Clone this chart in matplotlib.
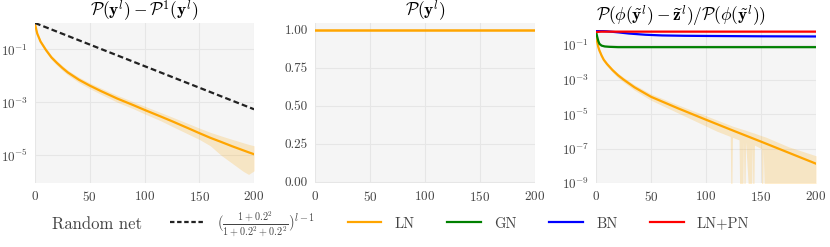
import matplotlib
matplotlib.use("Agg")
from matplotlib import pyplot as plt
from matplotlib.lines import Line2D
import numpy as np

plt.rcParams['font.family'] = 'serif'
plt.rcParams['font.serif'] = ['cmr10']
plt.rcParams['mathtext.fontset'] = 'cm'
plt.rcParams['axes.formatter.use_mathtext'] = True

ORANGE = '#FFA500'

# panel 1: P(y) - P^1(y)
ln1_x = [0, 2, 5, 10, 15, 20, 25, 30, 40, 50, 60, 75, 90, 100, 115, 125,
         140, 150, 160, 170, 180, 190, 195, 200]
ln1_mean = [0.9, 0.4, 0.2, 0.095, 0.05, 0.031, 0.02, 0.0135, 7.2e-3, 4.3e-3,
            2.7e-3, 1.4e-3, 7.8e-4, 5.2e-4, 2.9e-4, 1.95e-4, 1.05e-4, 6.9e-5,
            4.6e-5, 3.2e-5, 2.2e-5, 1.55e-5, 1.3e-5, 1.1e-5]
ln1_hi = [0.95, 0.45, 0.23, 0.112, 0.06, 0.037, 0.0245, 0.0165, 9.0e-3, 5.5e-3,
          3.5e-3, 1.86e-3, 1.05e-3, 7.2e-4, 4.1e-4, 2.8e-4, 1.58e-4, 1.07e-4,
          7.4e-5, 5.4e-5, 4.0e-5, 3.0e-5, 2.6e-5, 2.3e-5]
ln1_lo = [0.85, 0.35, 0.17, 0.08, 0.041, 0.025, 0.016, 0.0108, 5.6e-3, 3.3e-3,
          2.05e-3, 1.02e-3, 5.7e-4, 3.7e-4, 2.0e-4, 1.25e-4, 6.3e-5, 4.0e-5,
          2.3e-5, 1.0e-5, 5.0e-6, 2.5e-6, 1.9e-6, 2.6e-6]
random_x = [0, 200]
random_y = [1.0, 5.5e-4]

# panel 2: P(y)
p2_x = [0, 200]
p2_ln = [1.0, 1.0]

# panel 3: ratio, values as log10 exponents
ln3_x = [0, 1, 2, 3, 5, 7, 10, 15, 20, 25, 35, 50, 75, 100, 125, 150,
         175, 200]
ln3_exp = [-0.45, -0.8, -1.1, -1.3, -1.6, -1.85, -2.1, -2.45, -2.75, -3.0,
           -3.45, -4.0, -4.68, -5.33, -5.97, -6.6, -7.24, -7.88]
band3_x = [0, 1, 2, 3, 5, 7, 10, 15, 20, 25, 35, 50, 75, 100, 110, 122, 123,
           124, 130, 131, 133, 134, 135, 136, 141, 142, 143, 144, 150, 151,
           152, 154, 175, 200]
band3_lo_exp = [-0.5, -0.9, -1.2, -1.4, -1.72, -1.97, -2.22, -2.58, -2.9,
                -3.15, -3.62, -4.2, -4.95, -5.7, -6.0, -6.3, -12, -6.35,
                -6.5, -12, -12, -6.55, -12, -6.6, -12, -6.75, -12, -6.8,
                -7.0, -12, -7.05, -12, -12, -12]
band3_hi_exp = [-0.35, -0.7, -1.0, -1.2, -1.5, -1.75, -2.0, -2.35, -2.63,
                -2.87, -3.3, -3.83, -4.48, -5.1, -5.35, -5.65, -5.67, -5.7,
                -5.82, -5.84, -5.88, -5.9, -5.92, -5.94, -6.05, -6.07, -6.09,
                -6.11, -6.25, -6.27, -6.29, -6.33, -6.9, -7.42]
gn3_x = [0, 1, 2, 3, 5, 8, 12, 20, 50, 100, 150, 200]
gn3_exp = [-0.2, -0.5, -0.75, -0.92, -1.03, -1.08, -1.1, -1.12, -1.12, -1.12,
           -1.12, -1.12]
bn3_x = [0, 10, 20, 30, 45, 60, 80, 100, 150, 200]
bn3_exp = [-0.17, -0.2, -0.26, -0.33, -0.4, -0.44, -0.46, -0.47, -0.49, -0.5]
pn3_x = [0, 5, 200]
pn3_exp = [-0.24, -0.22, -0.22]


def style_axes(ax):
    ax.set_facecolor('#f5f5f5')
    for s in ax.spines.values():
        s.set_visible(False)
    ax.grid(True, color='#e6e6e6', linewidth=0.8)
    ax.set_axisbelow(True)
    ax.tick_params(length=0, labelsize=9.5, labelcolor='#444444', pad=5)
    ax.minorticks_off()
    ax.set_xlim(0, 200)
    ax.set_xticks([0, 50, 100, 150, 200])


fig = plt.figure(figsize=(8.3, 2.47), dpi=100)
ax1 = fig.add_axes([0.0422, 0.2591, 0.2639, 0.6478])
ax2 = fig.add_axes([0.3795, 0.2591, 0.2651, 0.6478])
ax3 = fig.add_axes([0.7181, 0.2591, 0.2651, 0.6194])

# panel 1
ax1.set_yscale('log')
ax1.fill_between(ln1_x, ln1_lo, ln1_hi, color=ORANGE, alpha=0.2, linewidth=0)
ax1.plot(ln1_x, ln1_mean, color=ORANGE, lw=1.6)
ax1.plot(random_x, random_y, color='#222222', lw=1.6, ls='--', dashes=(2.6, 1.4))
style_axes(ax1)
ax1.set_ylim(9e-7, 1.0)
ax1.set_yticks([1e-1, 1e-3, 1e-5])
ax1.minorticks_off()
ax1.set_title(r'$\mathcal{P}(\mathbf{y}^l) - \mathcal{P}^1(\mathbf{y}^l)$',
              fontsize=12.5, pad=1.5)

# panel 2
ax2.plot(p2_x, p2_ln, color=ORANGE, lw=1.8)
style_axes(ax2)
ax2.set_ylim(-0.008, 1.045)
ax2.set_yticks([0, 0.25, 0.5, 0.75, 1.0])
ax2.set_yticklabels(['0.00', '0.25', '0.50', '0.75', '1.00'])
ax2.set_title(r'$\mathcal{P}(\mathbf{y}^l)$', fontsize=12.5, pad=1.5)

# panel 3
ax3.set_yscale('log')
ax3.fill_between(band3_x, 10.0 ** np.array(band3_lo_exp),
                 10.0 ** np.array(band3_hi_exp),
                 color=ORANGE, alpha=0.2, linewidth=0)
ax3.plot(ln3_x, 10.0 ** np.array(ln3_exp), color=ORANGE, lw=1.6)
ax3.plot(gn3_x, 10.0 ** np.array(gn3_exp), color='green', lw=1.6)
ax3.plot(bn3_x, 10.0 ** np.array(bn3_exp), color='blue', lw=1.6)
ax3.plot(pn3_x, 10.0 ** np.array(pn3_exp), color='red', lw=1.6)
style_axes(ax3)
ax3.set_ylim(1e-9, 0.75)
ax3.set_yticks([1e-1, 1e-3, 1e-5, 1e-7, 1e-9])
ax3.minorticks_off()
ax3.text(0.386, 1.01,
         r'$\mathcal{P}(\phi(\tilde{\mathbf{y}}^l) - \widetilde{\mathbf{z}}^l)'
         r'/\mathcal{P}(\phi(\tilde{\mathbf{y}}^l))$',
         fontsize=12.5, ha='center', va='bottom', transform=ax3.transAxes)

# legend row
fig.text(0.063, 0.093, 'Random net', fontsize=12, va='center', ha='left',
         color='#444444')
handles = [
    Line2D([], [], color='#222222', lw=1.6, ls='--', dashes=(2.0, 1.2)),
    Line2D([], [], color=ORANGE, lw=1.6),
    Line2D([], [], color='green', lw=1.6),
    Line2D([], [], color='blue', lw=1.6),
    Line2D([], [], color='red', lw=1.6),
]
labels = [r'$(\frac{1+0.2^2}{1+0.2^2+0.2^2})^{l-1}$', 'LN', 'GN', 'BN', 'LN+PN']
leg = fig.legend(handles, labels, loc='center', bbox_to_anchor=(0.554, 0.093),
                 ncol=5, frameon=False, fontsize=10.5, handlelength=2.3,
                 handletextpad=0.9, columnspacing=2.25)
for t in leg.get_texts():
    t.set_color('#444444')

fig.savefig('out.png', dpi=100)
